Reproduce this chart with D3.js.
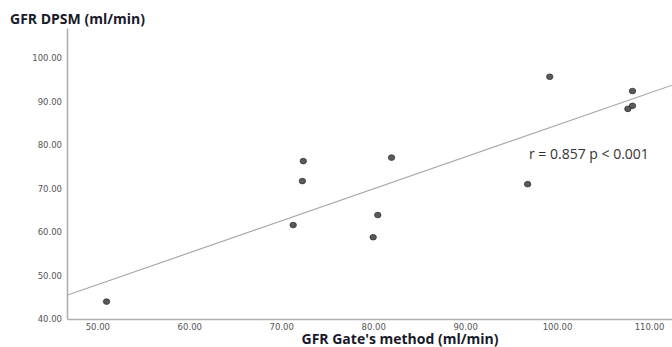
<!DOCTYPE html>
<html lang="en">
<head>
  <meta charset="UTF-8">
  <title>GFR DPSM vs Gate's method</title>
  <script src="https://d3js.org/d3.v7.min.js"></script>
  <style>
    body { margin: 0; padding: 0; background: #fff; overflow: hidden; }
    .tick text { font-family: "DejaVu Sans", sans-serif; font-size: 8.5px; fill: #555; }
    .axis .domain { stroke: #b0b0b0; stroke-width: 1.6px; }
  </style>
</head>
<body>
  <svg id="chart" width="672" height="347"></svg>
  <script>
    const gateGFR = [51.0, 72.4, 72.3, 71.3, 82.0, 80.5, 80.0, 99.2, 108.2, 108.2, 107.7, 96.8];
    const dpsmGFR = [44.0, 76.3, 71.7, 61.6, 77.1, 63.9, 58.8, 95.7, 92.4, 89.0, 88.3, 71.0];
    const xTicks = [50, 60, 70, 80, 90, 100, 110];
    const yTicks = [40, 50, 60, 70, 80, 90, 100];
    const statText = "r = 0.857 p < 0.001";

    const svg = d3.select("#chart");
    const x = d3.scaleLinear().domain([46.7, 112.5]).range([67, 672]);
    const y = d3.scaleLinear().domain([40, 106.9]).range([319, 28]);

    // axes
    svg.append("g").attr("class", "axis")
      .attr("transform", `translate(0,${y(40)})`)
      .call(d3.axisBottom(x).tickValues(xTicks).tickSize(0).tickSizeOuter(0)
        .tickPadding(5).tickFormat(d3.format(".2f")));
    svg.append("g").attr("class", "axis")
      .attr("transform", `translate(${x.range()[0]},0)`)
      .call(d3.axisLeft(y).tickValues(yTicks).tickSize(0).tickSizeOuter(0)
        .tickPadding(5).tickFormat(d3.format(".2f")));

    // least squares fit line
    const pts = gateGFR.map((g, i) => [g, dpsmGFR[i]]);
    const mx = d3.mean(gateGFR), my = d3.mean(dpsmGFR);
    const slope = d3.sum(pts, p => (p[0]-mx)*(p[1]-my)) / d3.sum(pts, p => (p[0]-mx)**2);
    const icpt = my - slope*mx;
    const [x0, x1] = x.domain();
    svg.append("line")
      .attr("x1", x(x0)).attr("y1", y(icpt + slope*x0))
      .attr("x2", x(x1)).attr("y2", y(icpt + slope*x1))
      .attr("stroke", "#a8a8a8").attr("stroke-width", 1.2);

    // points
    svg.append("g").selectAll("ellipse").data(pts).join("ellipse")
      .attr("cx", d => x(d[0])).attr("cy", d => y(d[1]))
      .attr("rx", 3.2).attr("ry", 2.8)
      .attr("fill", "#5a5a5a").attr("stroke", "#333").attr("stroke-width", 0.8);

    // labels
    svg.append("text").attr("x", 10).attr("y", 24)
      .style("font-family", "'Open Sans', sans-serif").style("font-weight", "bold")
      .style("font-size", "14px").attr("fill", "#1a1a2a")
      .text("GFR DPSM (ml/min)");
    svg.append("text").attr("x", 400).attr("y", 344).attr("text-anchor", "middle")
      .style("font-family", "'Open Sans', sans-serif").style("font-weight", "bold")
      .style("font-size", "14px").attr("fill", "#1a1a2a")
      .text("GFR Gate's method (ml/min)");
    svg.append("text").attr("x", 529).attr("y", 159)
      .style("font-family", "'Open Sans', sans-serif")
      .style("font-size", "14px").attr("fill", "#333")
      .text(statText);
  </script>
</body>
</html>
